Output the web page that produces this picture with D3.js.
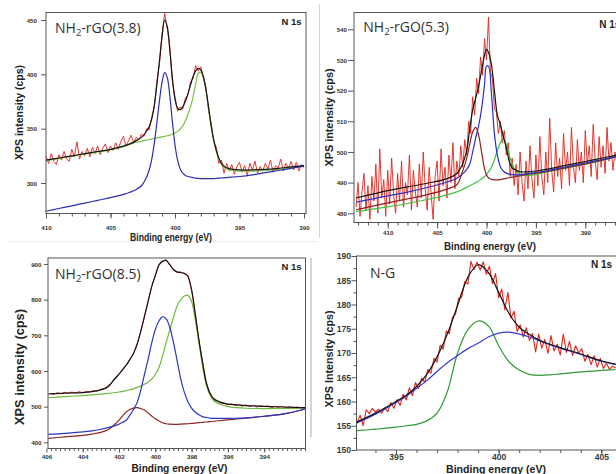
<!DOCTYPE html>
<html><head><meta charset="utf-8">
<script src="https://cdn.jsdelivr.net/npm/d3@7"></script>
<style>body{margin:0;background:#fff}svg{display:block}</style>
</head><body>
<script>
// ---------- Panel 1 : NH2-rGO(3.8) ----------
const p1GridE = [410,409,408,407,406,405,404,403.5,403,402.6,402.3,402.0,401.8,401.6,401.4,401.2,401.0,400.8,400.6,400.4,400.2,400.0,399.8,399.6,399.4,399.2,399.0,398.8,398.6,398.4,398.2,398.0,397.8,397.6,397.4,397.2,397.0,396.8,396.6,396.4,396.2,396.0,395.5,395,394,393,392,391,390];
const p1Fit   = [321,323,325,327,329,331,334,336,339,342,346,352,359,372,391,413,435,450,444,422,396,377,369,367.5,370,375,382,390,398,403,405.5,404,398,386,370,353,340,330,323,318,315.5,314,312.5,312,312,312.5,313.5,314.8,316];
const p1Green = [320.5,322.5,324.5,326.5,328.5,330.5,333.5,335.5,337.5,338.5,339.5,340,340.5,341,341.5,342,342.5,343,343.5,344,345,346,347.5,349.5,352.5,357,363,370,379,391,401,402,397,385,369,352,339,329,322,317,314.5,313,311.5,311,311,311.5,312.5,314,315.5];
const p1Blue  = [274,276.5,279,281.5,284,286.5,289.5,291.5,294,297.5,303,312,322,337,356,376,393,401.5,397,380,356,335,321,313,309,307,306,305.5,305,304.5,304.2,304,304,304,304,304,304,304.2,304.4,304.6,304.8,305,305.5,306,307.5,309.5,311.5,313.5,315.5];
const p1RedStart = 410, p1RedStep = -0.2;
const p1Red = [325,318,327,320,317,326,321,329,322,320,
  331,324,338,322,329,325,332,324,333,327,
  334,326,332,336,328,334,330,337,331,338,
  343,334,339,344,337,342,340,345,343,350,
  349,361,370,394,410,438,456,442,425,393,
  379,366,370,368,378,381,393,396,408,403,
  407,396,388,367,355,338,333,318,321,309,
  318,311,317,308,315,319,310,316,307,318,
  312,320,309,315,311,318,313,321,310,316,
  314,322,311,318,313,320,312,319,311,317,314];
const p1XTicks = [410,405,400,395,390];
const p1YTicks = [300,350,400,450];

// ---------- Panel 2 : NH2-rGO(5.3) ----------
const p2GridE = [413.2,412,410,408,406,404,403,402.5,402.0,401.7,401.4,401.1,400.8,400.5,400.2,400.0,399.8,399.5,399.2,398.9,398.6,398.3,398.0,397.7,397.4,397.0,396.5,396.0,395,394,392,390,388,386.5];
const p2Fit   = [485.0,485.9,487.4,488.6,489.8,491.3,493.0,495.5,500.5,507.5,513.7,517.5,521.5,526.5,531.5,533.5,532.5,528.5,520,512,509,505,501.5,497,494.8,494,493.5,493.5,493.8,494.3,495.6,496.9,498.2,499.2];
const p2Blue  = [483.6,484.4,485.7,486.9,488.4,490.2,491.4,492.6,494.3,496.0,500,504.5,508.5,514,522,528,528,519,506,499,495.2,493.8,493.1,492.8,492.6,492.5,492.6,492.9,493.3,493.8,495.1,496.4,497.7,498.7];
const p2Brown = [481.1,482.0,483.4,484.7,486.1,487.9,489.3,493,498,502.5,506.5,508,505.5,500,494.5,492.5,491.6,491.1,490.9,490.9,491,491.2,491.4,491.6,491.8,492.0,492.3,492.6,493.1,493.6,494.8,496.1,497.6,498.8];
const p2Green = [480.5,481.1,482.1,483.2,484.5,486.0,487.0,487.7,488.5,489.0,489.5,490.0,490.5,491.2,492.0,492.6,493.5,495,497.5,500.5,503,504.2,502.5,499,496,493.8,492.6,492.3,492.7,493.4,494.7,496,497.5,498.7];
const p2RedStart = 413.2, p2RedStep = -0.2;
const p2Red = [482,490,479,487,493,481,489,478,492,484,
  496,480,501,485,491,479,494,483,498,486,
  480,493,484,497,482,490,486,499,481,494,
  487,482,496,485,500,488,481,495,486,478,
  492,497,484,501,489,495,485,499,490,503,
  488,497,492,502,495,504,499,510,506,518,
  512,524,519,531,525,537,530,544,526,524,
  514,513,506,510,503,507,499,503,492,498,
  489,496,486,500,490,484,497,488,502,491,
  485,499,489,505,492,486,500,490,511,494,
  487,503,492,498,488,506,494,500,489,508,
  495,490,504,494,500,490,507,496,502,492,
  509,497,491,505,495,502,493,508,497,503,
  494,500,496];
const p2XTicks = [410,405,400,395,390];
const p2YTicks = [480,490,500,510,520,530,540];

// ---------- Panel 3 : NH2-rGO(8.5) ----------
const p3GridE = [405.9,405,404,403.5,403,402.6,402.3,402.0,401.8,401.6,401.4,401.2,401.0,400.8,400.6,400.4,400.2,400.0,399.8,399.6,399.4,399.2,399.0,398.8,398.6,398.4,398.2,398.0,397.8,397.6,397.4,397.2,397.0,396.8,396.5,396.0,395.5,395,394,393,392,391.7];
const p3Fit   = [535.5,538,539.5,542,547,556,574,591,604,617,632,650,675,712,752,795,836,868,897,908,910,898,884,878,876,874,865,828,760,688,625,570,538,523,514,507,505,503,501,499,497.5,497];
const p3Green = [525,528,531,533,535,537,539,541,543,545,547.5,550,554,558,563,568,577,590,610,642,680,715,750,782,800,810,812,795,745,680,615,562,534,518,508,500,497,495.5,494.5,494.8,496,496.5];
const p3Blue  = [422,425,429,432,436.5,441,445.5,451,456,462,476,492,512,546,590,632,678,716,740,752,746,722,680,630,578,540,514,496,485,477,472,469.5,468,467.3,467,467,467.5,468.5,473,479,490,495];
const p3Brown = [411,415,419.5,423,428,435,447,462,474,485,492,496,497,494.5,490.5,482,474,466,460,455,452,451,450.5,450.5,451,451.5,452,453,454,455,456,457,458,459,460.5,463,465.5,468,473,479,490,495];
const p3RedStart = 405.8, p3RedStep = -0.2;
const p3Red = [537,534,539,536,540,537,541,538,542,539,
  543,541,545,543,549,551,559,567,582,590,
  606,615,634,648,677,710,754,793,838,866,
  899,906,912,896,886,876,878,872,868,826,
  762,686,627,568,540,521,517,510,509,505,
  508,503,506,501,505,500,504,499,503,500,
  502,497,501,498,501,496,500,495,499,496,498];
const p3XTicks = [406,404,402,400,398,396,394];
const p3YTicks = [400,500,600,700,800,900];

// ---------- Panel 4 : N-G ----------
const p4GridE = [393.1,394,395,395.5,396,396.5,397,397.5,398,398.5,399,399.5,400,400.5,401,401.5,402,402.5,403,404,405,405.7];
const p4Fit   = [155.8,157.6,160.0,161.3,163.1,165.6,169.2,173.9,179.8,185.6,188.2,186.6,182.5,178.2,175.3,173.8,172.6,171.8,171.1,169.8,168.4,167.7];
const p4Blue  = [155.6,157.4,159.8,161.1,162.7,164.3,166.2,168.0,169.5,170.9,172.0,173.3,174.1,174.3,173.9,173.3,172.5,171.7,171.0,169.7,168.3,167.6];
const p4Green = [154.0,154.3,154.7,155.0,155.3,156.0,157.6,162.0,170.0,174.8,176.6,175.6,171.5,168.2,166.5,165.6,165.4,165.5,165.7,166.1,166.4,166.6];
const p4RedStart = 393.1, p4RedStep = 0.15;
const p4Red = [155.5,157.2,155.0,158.3,157.5,158.6,157.8,158.4,157.6,158.6,
  157.9,159.8,158.6,160.4,159.2,161.5,160.3,162.8,161.2,163.9,
  162.7,164.8,164.0,166.6,165.8,168.9,168.1,171.6,170.8,174.5,
  174.0,177.4,178.0,181.3,181.5,184.7,184.2,188.9,187.2,188.7,
  187.1,188.8,186.2,187.9,184.3,186.4,181.4,183.2,178.9,182.5,
  177.2,178.6,174.4,175.8,173.3,175.2,172.6,174.0,170.2,173.9,
  171.0,172.8,169.9,173.6,170.4,171.8,169.6,173.9,170.1,172.4,
  169.5,171.5,170.0,170.9,168.3,169.7,167.6,169.4,167.1,168.9,
  166.8,167.9,166.6,167.3,166.9];
const p4XTicks = [395,400,405];
const p4YTicks = [150,155,160,165,170,175,180,185,190];

// ---------- drawing ----------
const W = 616, H = 474;
const svg = d3.select('body').append('svg').attr('width', W).attr('height', H)
  .style('font-family', '"Liberation Sans", Arial, sans-serif');

// faint image-tile edges
svg.append('line').attr('x1',319.5).attr('x2',319.5).attr('y1',4).attr('y2',238).attr('stroke','#d4d4d4').attr('stroke-width',1);
svg.append('line').attr('x1',8).attr('x2',318).attr('y1',241.5).attr('y2',241.5).attr('stroke','#ececec').attr('stroke-width',1);
svg.append('line').attr('x1',311).attr('x2',311).attr('y1',258).attr('y2',437).attr('stroke','#a8a8a8').attr('stroke-width',1);

function redSeries(start, step, vals){ return vals.map((v,i)=>[+(start+i*step).toFixed(3), v]); }

function drawPanel(c){
  const g = svg.append('g');
  const f = c.frame;
  const x = d3.scaleLinear().domain(c.xAnchor).range(c.xRange);
  const y = d3.scaleLinear().domain(c.yAnchor).range(c.yRange);
  const cid = 'clip' + c.id;
  svg.append('clipPath').attr('id', cid).append('rect')
    .attr('x', f.x0).attr('y', f.y0).attr('width', f.x1 - f.x0).attr('height', f.y1 - f.y0);
  const plot = g.append('g').attr('clip-path', `url(#${cid})`);
  const rawLine = d3.line().x(d => x(d[0])).y(d => y(d[1]));
  const smooth = d3.line().x(d => x(d[0])).y(d => y(d[1])).curve(d3.curveCatmullRom.alpha(0.5));
  plot.append('path').datum(redSeries(c.redStart, c.redStep, c.red)).attr('d', rawLine)
    .attr('fill','none').attr('stroke', '#e2231a').attr('stroke-width', c.redW || 0.9).attr('stroke-linejoin','round');
  c.curves.forEach(cv => {
    plot.append('path').datum(d3.zip(c.gridE, cv.v)).attr('d', smooth)
      .attr('fill','none').attr('stroke', cv.color).attr('stroke-width', cv.w || 1.2);
  });
  // frame
  g.append('rect').attr('x', f.x0).attr('y', f.y0).attr('width', f.x1 - f.x0).attr('height', f.y1 - f.y0)
    .attr('fill','none').attr('stroke','#555').attr('stroke-width',1);
  // x axis
  const xMinor = g.append('g').attr('transform', `translate(0,${f.y1})`)
    .call(d3.axisBottom(x).tickValues(c.xMinor).tickSize(c.minorLen).tickFormat(''));
  const xMajor = g.append('g').attr('transform', `translate(0,${f.y1})`)
    .call(d3.axisBottom(x).tickValues(c.xTicks).tickSize(c.majorLen).tickFormat(d3.format('d')));
  [xMinor, xMajor].forEach(a => { a.select('.domain').remove(); a.selectAll('line').attr('stroke','#555'); });
  xMajor.selectAll('text').attr('y', c.xLabelBase - f.y1).attr('dy', 0)
    .attr('fill', c.tickColor).style('font-size', c.tickSize + 'px').style('font-weight', c.tickWeight);
  // y axis
  if (c.yMinor) {
    const yMinor = g.append('g').attr('transform', `translate(${f.x0},0)`)
      .call(d3.axisLeft(y).tickValues(c.yMinor).tickSize(c.minorLen).tickFormat(''));
    yMinor.select('.domain').remove(); yMinor.selectAll('line').attr('stroke','#555');
  }
  const yMajor = g.append('g').attr('transform', `translate(${f.x0},0)`)
    .call(d3.axisLeft(y).tickValues(c.yTicks).tickSize(c.majorLen).tickFormat(d3.format('d')));
  yMajor.select('.domain').remove(); yMajor.selectAll('line').attr('stroke','#555');
  yMajor.selectAll('text').attr('x', c.yLabelRight - f.x0).attr('dy', '0.34em')
    .attr('fill', c.tickColor).style('font-size', c.tickSize + 'px').style('font-weight', c.tickWeight);
  // axis titles
  const xt = g.append('text').attr('x', c.xTitle.x).attr('y', c.xTitle.y).attr('text-anchor','middle')
    .style('font-size', c.xTitle.size + 'px').style('font-weight','bold').attr('fill','#222').text('Binding energy (eV)');
  if (c.xTitle.len) xt.attr('textLength', c.xTitle.len).attr('lengthAdjust','spacingAndGlyphs');
  g.append('text').attr('transform', `translate(${c.yTitle.x},${c.yTitle.y}) rotate(-90)`).attr('text-anchor','middle')
    .style('font-size', c.yTitle.size + 'px').style('font-weight','bold').attr('fill','#222')
    .attr('textLength', c.yTitle.len).attr('lengthAdjust','spacingAndGlyphs').text(c.yTitle.text);
  // sample label
  const lab = g.append('text').attr('x', c.label.x).attr('y', c.label.y).attr('fill','#333')
    .style('font-family','"Open Sans", "Noto Sans", sans-serif').style('font-size', '14px');
  if (c.label.sub) {
    lab.append('tspan').text('NH');
    lab.append('tspan').attr('dy', 3).style('font-size','9.5px').text('2');
    lab.append('tspan').attr('dy', -3).text(c.label.text);
  } else lab.text(c.label.text);
  // N 1s
  g.append('text').attr('x', c.n1s.x).attr('y', c.n1s.y).attr('text-anchor', c.n1s.anchor)
    .style('font-size', c.n1s.size + 'px').style('font-weight','bold').attr('fill','#222').text('N 1s');
}

const range = (a, b, s) => d3.range(a, b, s).map(v => +v.toFixed(3));

drawPanel({
  id: 1, xAnchor: [410, 390], xRange: [46, 304], yAnchor: [450, 300], yRange: [20, 183],
  frame: {x0: 46, x1: 306, y0: 12.5, y1: 213.5},
  gridE: p1GridE, curves: [{v: p1Green, color: '#7cbf3f'}, {v: p1Blue, color: '#2b2fae'}, {v: p1Fit, color: '#151515'}],
  red: p1Red, redStart: p1RedStart, redStep: p1RedStep,
  xTicks: p1XTicks, xMinor: range(409, 390, -1), yTicks: p1YTicks,
  majorLen: 5, minorLen: 3, xLabelBase: 230, yLabelRight: 37,
  tickColor: '#333', tickSize: 6.2, tickWeight: 'bold',
  xTitle: {x: 171, y: 240.5, size: 10.5, len: 82},
  yTitle: {x: 23, y: 112.5, size: 10.5, len: 95, text: 'XPS intensity (cps)'},
  label: {x: 55, y: 32.7, sub: true, text: '-rGO(3.8)'},
  n1s: {x: 301.5, y: 25, anchor: 'end', size: 9.5}
});

drawPanel({
  id: 2, xAnchor: [410, 390], xRange: [387.7, 585.3], yAnchor: [540, 480], yRange: [29.3, 213.3],
  frame: {x0: 354, x1: 660, y0: 12.5, y1: 222.5},
  gridE: p2GridE, curves: [{v: p2Green, color: '#3cc43c'}, {v: p2Brown, color: '#8e1f1f'}, {v: p2Blue, color: '#2a2fc4'}, {v: p2Fit, color: '#151515'}],
  red: p2Red, redStart: p2RedStart, redStep: p2RedStep,
  xTicks: p2XTicks, xMinor: range(413, 386, -1), yTicks: p2YTicks,
  majorLen: 6, minorLen: 3, xLabelBase: 235, yLabelRight: 347,
  tickColor: '#333', tickSize: 6.2, tickWeight: 'bold',
  xTitle: {x: 490, y: 250, size: 10.5, len: 92},
  yTitle: {x: 332.5, y: 117.5, size: 10.8, len: 98, text: 'XPS intensity (cps)'},
  label: {x: 363.3, y: 31.7, sub: true, text: '-rGO(5.3)'},
  n1s: {x: 599.3, y: 27.5, anchor: 'start', size: 10}
});

drawPanel({
  id: 3, xAnchor: [400, 394], xRange: [155.3, 264.2], yAnchor: [900, 400], yRange: [264, 442.3],
  frame: {x0: 48, x1: 305.5, y0: 258, y1: 448.5},
  gridE: p3GridE, curves: [{v: p3Green, color: '#70b83d'}, {v: p3Brown, color: '#8e2525'}, {v: p3Blue, color: '#2a36c2'}, {v: p3Fit, color: '#151515'}],
  red: p3Red, redStart: p3RedStart, redStep: p3RedStep,
  xTicks: p3XTicks, xMinor: range(405.75, 391.7, -0.25), yTicks: p3YTicks,
  majorLen: 4, minorLen: 2.5, xLabelBase: 459, yLabelRight: 41.5,
  tickColor: '#333', tickSize: 6.2, tickWeight: 'bold',
  xTitle: {x: 179.5, y: 471.5, size: 10.8, len: 96},
  yTitle: {x: 24, y: 367, size: 12.5, len: 116, text: 'XPS intensity (cps)'},
  label: {x: 55, y: 279, sub: true, text: '-rGO(8.5)'},
  n1s: {x: 301.5, y: 270, anchor: 'end', size: 9.5}
});

drawPanel({
  id: 4, xAnchor: [395, 405], xRange: [396, 601.3], yAnchor: [190, 150], yRange: [256, 450],
  frame: {x0: 356.5, x1: 660, y0: 256, y1: 450},
  gridE: p4GridE, curves: [{v: p4Green, color: '#2e9b32'}, {v: p4Blue, color: '#3a3ad6'}, {v: p4Fit, color: '#151515'}],
  red: p4Red, redStart: p4RedStart, redStep: p4RedStep, redW: 1.1,
  xTicks: p4XTicks, xMinor: range(394, 406, 1), yTicks: p4YTicks, yMinor: range(152.5, 190, 5),
  majorLen: 5, minorLen: 3, xLabelBase: 460, yLabelRight: 351,
  tickColor: '#3a3a3a', tickSize: 8.6, tickWeight: 'bold',
  xTitle: {x: 496, y: 472.5, size: 10.5, len: 100},
  yTitle: {x: 332.5, y: 359, size: 10.7, len: 97, text: 'XPS Intensity (cps)'},
  label: {x: 370, y: 277.5, sub: false, text: 'N-G'},
  n1s: {x: 612, y: 267.5, anchor: 'end', size: 10}
});
</script>
</body></html>
